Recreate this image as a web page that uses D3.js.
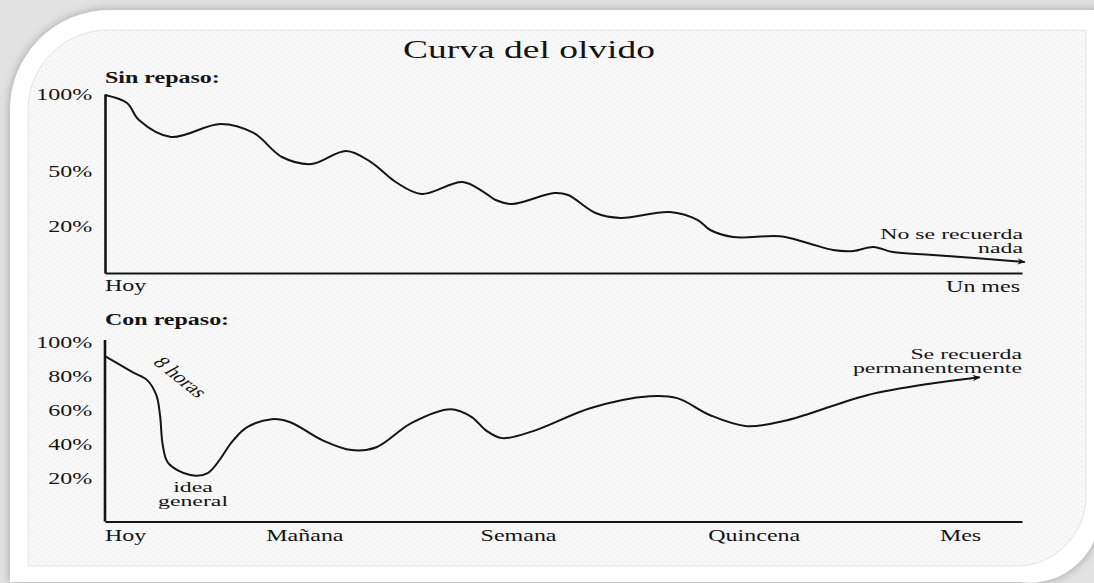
<!DOCTYPE html>
<html>
<head>
<meta charset="utf-8">
<script src="https://cdn.jsdelivr.net/npm/d3@7"></script>
<style>
  html, body { margin: 0; padding: 0; background: #e4e4e4; overflow: hidden; }
</style>
</head>
<body>
<div id="chart"></div>
<script>
// ---- data ----
// x is position along the time axis, 0 = "Hoy", 100 = end of the month
var sinX = [0, 2.4, 3.7, 7.2, 12.6, 16.2, 19.3, 22.5, 26.3, 29.0, 31.7, 34.5, 39.0, 41.3, 42.6, 44.4,
            49.0, 50.5, 53.5, 56.2, 61.6, 64.6, 66.0, 68.5, 73.6, 76.6, 79.4, 81.6, 83.8, 85.9, 90.3, 100.3];
var sinY = [99.4, 94.2, 83.1, 72.1, 80.5, 74.7, 59.1, 54.5, 63.0, 55.8, 44.0, 37.5, 44.0, 38.5, 34.2, 32.0,
            38.0, 36.9, 27.1, 24.4, 27.6, 23.3, 18.3, 15.3, 15.6, 12.8, 9.8, 9.4, 11.1, 8.9, 7.7, 4.7];

var conX = [0, 3.05, 4.6, 5.6, 6.0, 6.3, 6.9, 9.3, 11.2, 14.0, 15.5, 18.2, 20.2, 23.7, 26.9, 29.6,
            33.4, 37.7, 40.0, 41.5, 43.3, 47.0, 52.9, 59.4, 62.4, 66.0, 70.0, 74.4, 83.1, 90.3, 95.4];
var conY = [91.7, 82.3, 77.7, 68.9, 57.2, 39.7, 29.2, 22.2, 23.4, 42.6, 50.2, 54.9, 53.1, 42.6, 36.8, 38.5,
            52.6, 60.7, 56.1, 48.5, 43.8, 48.5, 61.3, 68.3, 67.2, 57.2, 50.8, 54.3, 68.9, 75.9, 79.4];

var sinTicks = [100, 50, 20];
var sinTickDomain = [0, 20, 50, 100];          // the top axis is not evenly spaced
var conTicks = [100, 80, 60, 40, 20];

var sinLabels = ["Hoy", "Un mes"];
var sinLabelPos = [0, 100];
var conLabels = ["Hoy", "Mañana", "Semana", "Quincena", "Mes"];
var conLabelPos = [0, 21.8, 45.1, 70.8, 93.3];

// ---- setup ----
var W = 1094, H = 583;
var SX = 1.5;   // the scan is stretched sideways, so is the type
var serif = "'Liberation Serif', 'Times New Roman', serif";
var ink = "#141414";

var svg = d3.select("#chart").append("svg")
	.attr("width", W)
	.attr("height", H)
	.style("display", "block");

var defs = svg.append("defs");

var shadow = defs.append("filter").attr("id", "shadow")
	.attr("x", "-5%").attr("y", "-5%").attr("width", "110%").attr("height", "110%");
shadow.append("feDropShadow")
	.attr("dx", 0).attr("dy", 0)
	.attr("stdDeviation", 5)
	.attr("flood-color", "#000")
	.attr("flood-opacity", 0.3);

var paper = defs.append("pattern").attr("id", "paper")
	.attr("patternUnits", "userSpaceOnUse")
	.attr("width", 8).attr("height", 5);
paper.append("rect").attr("width", 8).attr("height", 5).attr("fill", "#f8f8f8");
paper.append("ellipse").attr("cx", 2).attr("cy", 1.5).attr("rx", 1.2).attr("ry", 0.6).attr("fill", "#e9e9e9");
paper.append("ellipse").attr("cx", 6).attr("cy", 4).attr("rx", 1.2).attr("ry", 0.6).attr("fill", "#ececec");

var arrow = defs.append("marker").attr("id", "arrow")
	.attr("viewBox", "0 0 10 10")
	.attr("refX", 9).attr("refY", 5)
	.attr("markerUnits", "userSpaceOnUse")
	.attr("markerWidth", 12).attr("markerHeight", 8)
	.attr("orient", "auto");
arrow.append("path").attr("d", "M0,1 L10,5 L0,9 L3,5 Z").attr("fill", ink);

// ---- frame: card and scanned page ----
svg.append("rect").attr("width", W).attr("height", H).attr("fill", "#e2e2e2");
svg.append("path")
	.attr("d", "M10,600 V110 A100,100 0 0 1 110,10 H1100 V512 A70,70 0 0 1 1022,582 H10 Z")
	.attr("fill", "#fff")
	.attr("filter", "url(#shadow)");
svg.append("path")
	.attr("d", "M28,566 V110 A80,80 0 0 1 108,30 H1086 V496 A70,70 0 0 1 1016,566 Z")
	.attr("fill", "url(#paper)")
	.attr("stroke", "#e3e3e3")
	.attr("stroke-width", 1);

// text helper, stretched like the scan
function label(x, y, txt, anchor, size, weight, sx) {
	return svg.append("text")
		.attr("transform", "translate(" + x + "," + y + ") scale(" + (sx || SX) + ",1)")
		.attr("text-anchor", anchor || "start")
		.attr("font-family", serif)
		.attr("font-size", size || 16)
		.attr("font-weight", weight || "normal")
		.attr("fill", ink)
		.text(txt);
}
// two-line notes are set tighter in the scan
function note(x, y, txt, anchor) {
	return label(x, y, txt, anchor, 14, "normal", 1.7);
}

function styleYAxis(g) {
	g.select(".domain").attr("stroke", ink).attr("stroke-width", 2.6);
	g.selectAll(".tick text")
		.attr("font-family", serif)
		.attr("font-size", 16)
		.attr("fill", ink)
		.attr("transform", "scale(" + SX + ",1)");
}

// ---- scales ----
var x = d3.scaleLinear().domain([0, 100]).range([105, 1022]);
var ySin = d3.scaleLinear().domain(sinTickDomain).range([273, 226, 171, 94]);
// axis floor sits a little below 0%
var yCon = d3.scaleLinear().domain([-5, 100]).range([521.6, 342]);

var line = d3.line().curve(d3.curveCatmullRom.alpha(0.5));

label(529, 58, "Curva del olvido", "middle", 25);

// ---- top chart: sin repaso ----
label(105, 83, "Sin repaso:", "start", 16, "bold");

svg.append("g")
	.attr("transform", "translate(0," + ySin(0) + ")")
	.call(d3.axisBottom(x).tickValues([]).tickSizeOuter(0))
	.call(function(g) { g.select(".domain").attr("stroke", ink).attr("stroke-width", 2); });

svg.append("g")
	.attr("transform", "translate(" + x(0) + ",0)")
	.call(d3.axisLeft(ySin).tickValues(sinTicks).tickFormat(function(d) { return d + "%"; })
		.tickSize(0).tickPadding(8.5))
	.call(styleYAxis);

svg.append("path")
	.attr("d", line(sinX.map(function(v, i) { return [x(v), ySin(sinY[i])]; })))
	.attr("fill", "none")
	.attr("stroke", ink)
	.attr("stroke-width", 2)
	.attr("marker-end", "url(#arrow)");

label(x(sinLabelPos[0]), 291, sinLabels[0], "start");
label(x(sinLabelPos[1]) - 2, 292, sinLabels[1], "end");

note(1023, 239, "No se recuerda", "end");
note(1023, 253, "nada", "end");

// ---- bottom chart: con repaso ----
label(105, 325, "Con repaso:", "start", 16, "bold");

svg.append("g")
	.attr("transform", "translate(0," + yCon(-5) + ")")
	.call(d3.axisBottom(x).tickValues([]).tickSizeOuter(0))
	.call(function(g) { g.select(".domain").attr("stroke", ink).attr("stroke-width", 2); });

svg.append("g")
	.attr("transform", "translate(" + x(0) + ",0)")
	.call(d3.axisLeft(yCon).tickValues(conTicks).tickFormat(function(d) { return d + "%"; })
		.tickSize(0).tickPadding(8.5))
	.call(function(g) {
		styleYAxis(g);
		// axis runs a touch above 100%
		g.select(".domain").attr("d", "M0," + yCon(-5) + "V" + (yCon(100) - 2));
	});

svg.append("path")
	.attr("d", line(conX.map(function(v, i) { return [x(v), yCon(conY[i])]; })))
	.attr("fill", "none")
	.attr("stroke", ink)
	.attr("stroke-width", 2)
	.attr("marker-end", "url(#arrow)");

conLabels.forEach(function(t, i) {
	label(x(conLabelPos[i]), 541, t, i === 0 ? "start" : "middle");
});

note(1022, 359, "Se recuerda", "end");
note(1022, 373, "permanentemente", "end");

note(193, 492, "idea", "middle");
note(193, 506, "general", "middle");

svg.append("text")
	.attr("transform", "translate(181,377) scale(" + SX + ",1) rotate(50)")
	.attr("text-anchor", "middle")
	.attr("dy", "0.35em")
	.attr("font-family", serif)
	.attr("font-size", 16)
	.attr("fill", ink)
	.text("8 horas");
</script>
</body>
</html>
